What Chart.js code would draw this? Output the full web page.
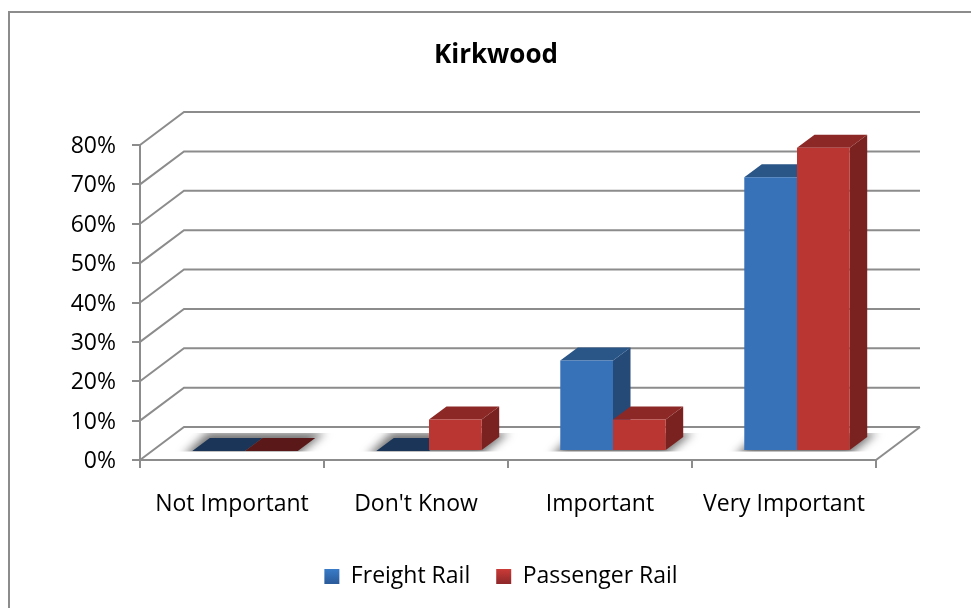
<!DOCTYPE html>
<html>
<head>
<meta charset="utf-8">
<title>Kirkwood</title>
<script src="https://cdn.jsdelivr.net/npm/chart.js@4"></script>
<style>
  body { margin: 0; background: #fff; }
  canvas { display: block; }
</style>
</head>
<body>
<canvas id="myChart" width="971" height="608"></canvas>
<script>
const categories = ["Not Important", "Don't Know", "Important", "Very Important"];
const freightRail = [0, 0, 23, 69.5];
const passengerRail = [0, 8, 8, 77];
const seriesNames = ["Freight Rail", "Passenger Rail"];

const frontColors = ["#3771b8", "#b93632"];
const sideColors = ["#254a78", "#7a221f"];
const topColors = ["#2a5587", "#8c2826"];
const floorColors = ["#1b3558", "#5a1818"];
const legendColors = [["#3a7ecb", "#2b5c9c"], ["#cf3d38", "#90282a"]];

const gridColor = "#8c8c8c";
const fontName = "Open Sans";
// the depth of the box and where the bars sit in it
const wallX = 44, wallY = -33;
const barShiftX = 13, barShiftY = -9;
const depthX = 17.5, depthY = -13;

function poly(ctx, pts, color) {
  ctx.beginPath();
  pts.forEach((p, i) => (i ? ctx.lineTo(p[0], p[1]) : ctx.moveTo(p[0], p[1])));
  ctx.closePath();
  ctx.fillStyle = color;
  ctx.fill();
}

function drawWalls(chart) {
  const ctx = chart.ctx;
  const area = chart.chartArea;
  const y = chart.scales.y;
  ctx.strokeStyle = gridColor;
  ctx.lineWidth = 2;
  y.ticks.forEach((t) => {
    const py = y.getPixelForValue(t.value);
    ctx.beginPath();
    ctx.moveTo(area.left, py);
    ctx.lineTo(area.left + wallX, py + wallY);
    ctx.lineTo(area.right + wallX, py + wallY);
    ctx.stroke();
  });
  // right edge of the floor
  ctx.beginPath();
  ctx.moveTo(area.right, area.bottom);
  ctx.lineTo(area.right + wallX, area.bottom + wallY);
  ctx.stroke();
}

function drawShadows(chart) {
  const ctx = chart.ctx;
  const a = chart.getDatasetMeta(0).data;
  const b = chart.getDatasetMeta(1).data;
  const baseY = a[0].base + barShiftY;
  ctx.save();
  ctx.beginPath();
  ctx.rect(0, baseY + depthY - 5, chart.width, 5.5 - depthY);
  ctx.clip();
  ctx.filter = "blur(5px)";
  a.forEach((bar, i) => {
    const l = bar.x - bar.width / 2 + barShiftX;
    const r = b[i].x + b[i].width / 2 + barShiftX;
    poly(ctx, [
      [l - 10, baseY + 6],
      [r - 2, baseY + 6],
      [r + depthX + 10, baseY + depthY - 6],
      [l + depthX - 2, baseY + depthY - 6],
    ], "rgba(80,80,80,0.8)");
  });
  ctx.restore();
}

function drawBarFaces(chart) {
  const ctx = chart.ctx;
  [0, 1].forEach((d) => {
    chart.getDatasetMeta(d).data.forEach((bar) => {
      const l = bar.x - bar.width / 2 + barShiftX;
      const r = bar.x + bar.width / 2 + barShiftX;
      const t = bar.y + barShiftY;
      const b = bar.base + barShiftY;
      const flat = b - t < 1;
      poly(ctx, [[r, t], [r + depthX, t + depthY], [r + depthX, b + depthY], [r, b]], sideColors[d]);
      poly(ctx, [[l, t], [r, t], [r + depthX, t + depthY], [l + depthX, t + depthY]], flat ? floorColors[d] : topColors[d]);
    });
  });
}

const box3d = {
  id: "box3d",
  beforeDraw(chart) {
    const ctx = chart.ctx;
    ctx.save();
    ctx.strokeStyle = gridColor;
    ctx.lineWidth = 2;
    ctx.beginPath();
    ctx.moveTo(9, chart.height);
    ctx.lineTo(9, 12);
    ctx.lineTo(chart.width, 12);
    ctx.stroke();
    ctx.restore();
  },
  afterLayout(chart) {
    // title and legend are not centred on the plot in the reference
    chart.titleBlock.left = 0;
    chart.titleBlock.right = 992;
    chart.legend.left = 0;
    chart.legend.right = 1002;
  },
  beforeDatasetsDraw(chart) {
    drawWalls(chart);
    drawShadows(chart);
    drawBarFaces(chart);
    chart.ctx.save();
    chart.ctx.translate(barShiftX, barShiftY);
  },
  afterDatasetsDraw(chart) {
    chart.ctx.restore();
  },
};

const ctx = document.getElementById("myChart").getContext("2d");
const legendGradients = legendColors.map((c) => {
  const g = ctx.createLinearGradient(0, 568, 0, 583);
  g.addColorStop(0, c[0]);
  g.addColorStop(1, c[1]);
  return g;
});

const myChart = new Chart(ctx, {
  type: "bar",
  data: {
    labels: categories,
    datasets: [
      { label: seriesNames[0], data: freightRail, backgroundColor: frontColors[0], clip: false },
      { label: seriesNames[1], data: passengerRail, backgroundColor: frontColors[1], clip: false },
    ],
  },
  options: {
    responsive: false,
    animation: false,
    devicePixelRatio: 1,
    categoryPercentage: 0.573,
    barPercentage: 1,
    layout: { padding: { left: 0, right: 95, top: 0, bottom: 10 } },
    font: { family: fontName },
    plugins: {
      tooltip: { enabled: false },
      title: {
        display: true,
        text: "Kirkwood",
        color: "#000",
        font: { family: fontName, size: 26, weight: "bold", lineHeight: 1.2 },
        padding: { top: 40, bottom: 73.8 },
      },
      legend: {
        position: "bottom",
        labels: {
          color: "#000",
          font: { family: fontName, size: 23 },
          boxWidth: 15,
          boxHeight: 15,
          padding: 26,
          generateLabels: (chart) =>
            chart.data.datasets.map((ds, i) => ({
              text: ds.label,
              fillStyle: legendGradients[i],
              strokeStyle: "transparent",
              lineWidth: 0,
              fontColor: "#000",
              datasetIndex: i,
            })),
        },
      },
    },
    scales: {
      x: {
        afterFit: (s) => { s.height = 79; },
        border: { color: gridColor, width: 2 },
        grid: { drawOnChartArea: false, color: gridColor, lineWidth: 2, tickLength: 8 },
        ticks: { color: "#000", font: { family: fontName, size: 23 }, padding: 23, maxRotation: 0 },
      },
      y: {
        min: 0,
        max: 80,
        afterFit: (s) => { s.width = 140; },
        border: { color: gridColor, width: 2 },
        grid: { drawOnChartArea: false, color: gridColor, lineWidth: 2, tickLength: 8 },
        ticks: {
          stepSize: 10,
          color: "#000",
          font: { family: fontName, size: 23 },
          padding: 16,
          labelOffset: 1.5,
          callback: (v) => v + "%",
        },
      },
    },
  },
  plugins: [box3d],
});
</script>
</body>
</html>
